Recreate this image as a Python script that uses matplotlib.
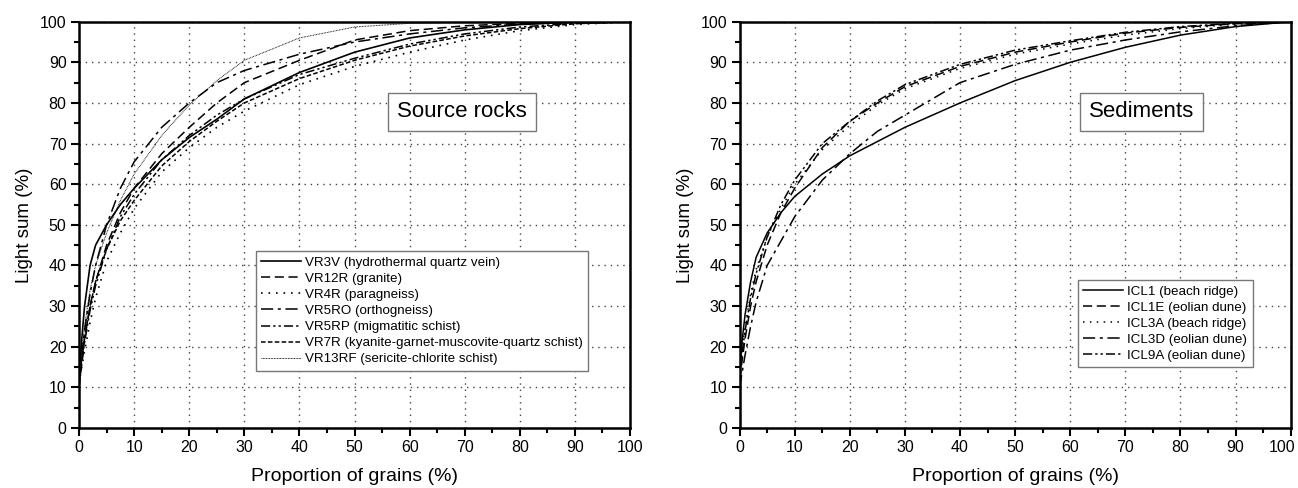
import matplotlib
matplotlib.use("Agg")
import matplotlib.pyplot as plt
from matplotlib.transforms import ScaledTranslation

plt.rcParams['font.family'] = ['Liberation Sans', 'DejaVu Sans']

# Dados
x_src = [0, 0.5, 1, 2, 3, 5, 7.5, 10, 15, 20, 25, 30, 40, 50, 60, 70, 80, 90, 100]
vr3v   = [12, 22, 30, 40, 45, 50, 55, 59, 66, 71.5, 76, 81, 87.5, 92.5, 96, 98, 99.3, 99.9, 100]
vr12r  = [10, 16, 22, 30, 36, 45, 53, 59, 67.5, 74, 80, 85, 90.5, 95.5, 97.8, 99, 99.6, 99.9, 100]
vr4r   = [11, 15, 19, 26, 32, 41, 48, 54, 63, 69, 74, 78, 84.5, 89, 92.5, 95.5, 97.8, 99.3, 100]
vr5ro  = [12, 18, 24, 33, 40, 50, 59, 65.5, 74, 80, 85, 88, 92, 95, 97, 98.5, 99.4, 99.9, 100]
vr5rp  = [11, 16, 21, 29, 35, 44, 52, 57.5, 66, 72, 77, 81, 87, 91, 94.5, 97, 98.7, 99.6, 100]
vr7r   = [12, 17, 22, 30, 36, 44, 51, 56, 64.5, 70.5, 75.5, 80, 86, 90.5, 94, 96.5, 98.3, 99.5, 100]
vr13rf = [13, 19, 25, 34, 40, 48, 56, 62.5, 72, 79.5, 85.5, 90.5, 96, 98.7, 99.6, 99.9, 100, 100, 100]

x_sed = [0, 0.5, 1, 2, 3, 5, 7.5, 10, 15, 20, 25, 30, 40, 50, 60, 70, 80, 90, 100]
icl1  = [15, 22, 28, 36, 42, 48, 53, 57, 62.5, 67, 70.5, 74, 80, 85.5, 90, 93.7, 96.7, 98.8, 100]
icl1e = [12, 17, 22, 30, 36, 45, 53, 59, 69, 75.5, 80, 84, 89, 92.5, 95, 97.2, 98.6, 99.5, 100]
icl3a = [14, 20, 25, 33, 39, 47, 54, 60, 68.5, 74.5, 79.5, 83.5, 88.5, 92, 94.5, 96.7, 98.3, 99.4, 100]
icl3d = [10, 14, 18, 25, 31, 40, 46, 52, 61, 67.5, 73, 77, 85, 89.5, 93, 95.5, 97.5, 99, 100]
icl9a = [13, 19, 24, 32, 38, 47, 55, 61, 70, 75.5, 80.5, 84.5, 89.5, 93, 95.3, 97.4, 98.8, 99.6, 100]

rotulos_src = ["VR3V (hydrothermal quartz vein)", "VR12R (granite)", "VR4R (paragneiss)",
               "VR5RO (orthogneiss)", "VR5RP (migmatitic schist)",
               "VR7R (kyanite-garnet-muscovite-quartz schist)", "VR13RF (sericite-chlorite schist)"]
rotulos_sed = ["ICL1 (beach ridge)", "ICL1E (eolian dune)", "ICL3A (beach ridge)",
               "ICL3D (eolian dune)", "ICL9A (eolian dune)"]

estilos_src = ["-", (0, (6, 3)), (0, (1, 3.5)), (0, (8, 3, 2, 3)), (0, (6, 2, 1.5, 2, 1.5, 2)),
               (0, (3, 1.5)), (0, (0.8, 0.8))]
larg_src = [1.2, 1.1, 1.2, 1.1, 1.1, 1.1, 0.7]
estilos_sed = ["-", (0, (6, 3)), (0, (1, 3.5)), (0, (8, 3, 2, 3)), (0, (6, 2, 1.5, 2, 1.5, 2))]

fig = plt.figure(figsize=(12.98, 4.88), dpi=100)
ax1 = fig.add_axes([0.0609, 0.123, 0.4245, 0.8325])
ax2 = fig.add_axes([0.5698, 0.123, 0.4245, 0.8325])


def formatar(ax):
	ax.set_xlim(0, 100)
	ax.set_ylim(0, 100)
	ax.set_xticks(range(0, 101, 10))
	ax.set_yticks(range(0, 101, 10))
	ax.set_xticks(range(5, 100, 10), minor=True)
	ax.set_yticks(range(5, 100, 10), minor=True)
	ax.tick_params(which="major", direction="out", length=6, width=1.5, labelsize=11.5, pad=3)
	ax.tick_params(which="minor", direction="out", length=3.5, width=1.5)
	ax.grid(True, which="major", color="#444444", linestyle=(0, (1, 3.5)), linewidth=1)
	for s in ax.spines.values():
		s.set_linewidth(1.8)
	ax.set_xlabel("Proportion of grains (%)", fontsize=14, labelpad=9)
	ax.set_ylabel("Light sum (%)", fontsize=13.5, labelpad=5)


series_src = [vr3v, vr12r, vr4r, vr5ro, vr5rp, vr7r, vr13rf]
for y, est, lw, rot in zip(series_src, estilos_src, larg_src, rotulos_src):
	ax1.plot(x_src, y, color="black", linestyle=est, linewidth=lw, label=rot)

series_sed = [icl1, icl1e, icl3a, icl3d, icl9a]
for y, est, rot in zip(series_sed, estilos_sed, rotulos_sed):
	ax2.plot(x_sed, y, color="black", linestyle=est, linewidth=1.1, label=rot)

formatar(ax1)
formatar(ax2)

# o último rótulo do eixo direito fica dentro da figura
fig.canvas.draw()
ultimo = ax2.get_xticklabels()[-1]
ultimo.set_transform(ultimo.get_transform() + ScaledTranslation(-6 / 72, 0, fig.dpi_scale_trans))

for ax, bb in [(ax1, (0.321, 0.435)), (ax2, (0.614, 0.364))]:
	leg = ax.legend(loc="upper left", bbox_to_anchor=bb, borderaxespad=0, fontsize=9.6,
	                handlelength=3.0, handletextpad=0.3, labelspacing=0.28,
	                fancybox=False, framealpha=1, edgecolor="#777777", borderpad=0.4)
	leg.get_frame().set_linewidth(1)

caixa = dict(boxstyle="square,pad=0.4", facecolor="white", edgecolor="#777777", linewidth=1)
ax1.text(69.5, 77.8, "Source rocks", fontsize=16, ha="center", va="center", bbox=caixa)
ax2.text(73, 77.8, "Sediments", fontsize=16, ha="center", va="center", bbox=caixa)

fig.savefig("out.png", dpi=100)
